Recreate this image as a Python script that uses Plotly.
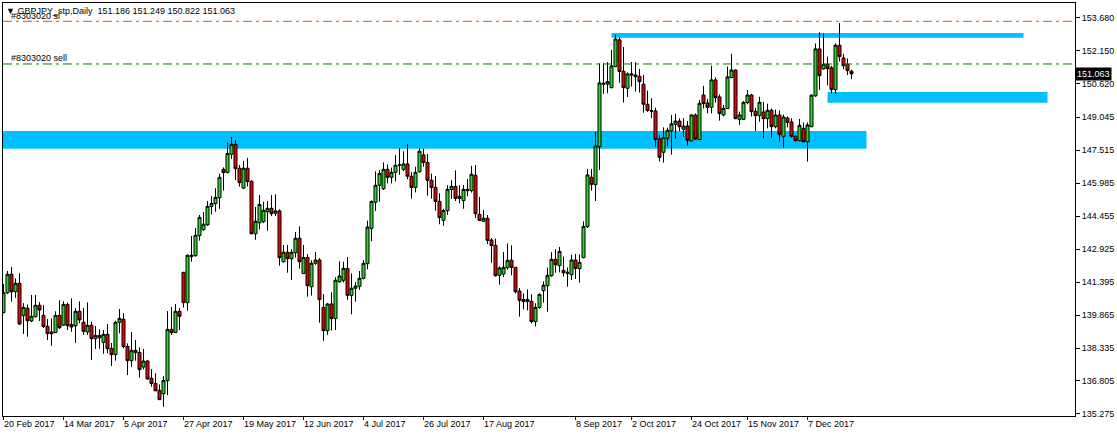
import plotly.graph_objects as go

# ---------------- data ----------------
opens = [139.98, 140.90, 141.76, 140.95, 141.34, 139.84, 140.18, 139.59, 139.79, 140.32,
         139.85, 139.34, 139.08, 139.05, 139.85, 139.40, 140.36, 139.43, 139.37, 140.04,
         139.53, 139.08, 139.39, 138.77, 138.92, 138.60, 138.97, 138.32, 138.03, 139.53,
         139.67, 138.41, 137.75, 138.23, 138.13, 137.45, 137.73, 136.93, 136.69, 136.37,
         136.21, 136.82, 139.20, 139.06, 140.04, 141.85, 140.44, 142.58, 142.62, 143.55,
         143.83, 144.05, 144.90, 145.04, 145.31, 146.63, 146.49, 147.33, 147.79, 146.68,
         145.76, 146.68, 146.07, 143.64, 144.15, 144.20, 144.66, 144.82, 144.59, 144.70,
         142.34, 142.78, 142.48, 142.76, 143.43, 141.79, 142.54, 141.18, 142.27, 142.42,
         140.22, 139.14, 140.38, 139.70, 141.41, 141.48, 142.03, 140.78, 141.11, 141.20,
         141.57, 142.25, 143.89, 145.10, 145.89, 145.73, 146.63, 146.26, 146.49, 146.82,
         146.63, 146.88, 146.31, 145.79, 146.52, 147.30, 146.95, 146.12, 145.79, 145.14,
         144.26, 144.71, 145.69, 145.84, 145.28, 145.18, 145.70, 145.64, 146.35, 144.54,
         144.22, 144.36, 143.35, 143.10, 141.71, 141.77, 142.06, 142.41, 142.08, 140.98,
         140.49, 140.59, 140.50, 139.56, 140.22, 141.00, 141.23, 141.69, 142.45, 142.16,
         141.94, 141.80, 141.74, 142.42, 142.02, 142.53, 143.97, 146.26, 145.92, 147.68,
         150.58, 150.58, 150.42, 151.40, 152.64, 151.18, 150.39, 151.00, 151.01, 150.95,
         150.58, 149.65, 149.36, 149.34, 148.04, 147.42, 148.07, 148.41, 148.72, 148.87,
         148.49, 148.64, 147.95, 149.15, 148.01, 150.08, 149.71, 149.51, 150.78, 149.99,
         149.15, 149.45, 150.89, 151.24, 148.95, 148.95, 149.73, 150.08, 149.32, 149.12,
         149.29, 148.98, 149.37, 148.61, 149.15, 148.16, 149.01, 148.83, 148.16, 147.96,
         148.53, 147.91, 148.61, 150.04, 152.22, 151.29, 151.51, 151.34, 150.33, 152.39,
         151.80, 151.51, 151.186]
highs = [141.31, 141.91, 142.10, 141.57, 141.80, 140.42, 140.36, 140.80, 140.80, 140.47,
         140.32, 139.68, 139.71, 140.04, 140.55, 140.50, 140.44, 140.64, 140.19, 140.50,
         140.19, 140.45, 139.56, 139.36, 139.20, 139.17, 139.45, 138.57, 139.60, 140.15,
         139.96, 138.55, 139.08, 138.71, 138.37, 138.29, 137.78, 137.36, 137.16, 136.65,
         137.03, 140.05, 140.24, 140.38, 140.19, 141.87, 142.68, 143.53, 143.91, 144.51,
         144.65, 145.16, 145.39, 145.75, 146.43, 146.72, 147.87, 148.13, 147.99, 146.83,
         147.02, 147.16, 146.12, 144.88, 145.44, 145.13, 145.16, 145.44, 145.47, 144.77,
         143.12, 143.12, 142.93, 143.72, 143.98, 143.12, 142.70, 142.41, 142.79, 142.51,
         140.84, 140.42, 140.92, 141.62, 142.36, 142.34, 142.56, 141.80, 141.40, 141.91,
         142.42, 144.25, 145.18, 146.54, 146.60, 146.95, 146.86, 146.71, 147.30, 147.61,
         147.47, 147.81, 146.51, 146.75, 147.62, 147.59, 147.34, 146.43, 146.32, 145.52,
         144.80, 145.90, 146.12, 146.58, 145.89, 145.90, 146.18, 146.79, 146.83, 145.35,
         144.74, 144.51, 143.44, 143.41, 142.13, 142.79, 143.19, 143.10, 142.08, 141.12,
         140.87, 141.06, 140.83, 140.41, 140.87, 141.43, 142.07, 142.78, 142.92, 143.03,
         142.58, 142.07, 142.67, 142.70, 142.68, 144.22, 146.65, 146.65, 148.36, 151.55,
         151.55, 151.61, 152.17, 152.87, 152.76, 152.31, 151.13, 151.61, 151.60, 151.29,
         151.01, 150.28, 149.93, 149.49, 148.21, 148.58, 148.56, 149.15, 149.21, 149.00,
         149.01, 148.87, 149.18, 149.22, 149.85, 150.50, 149.90, 151.44, 150.90, 150.11,
         149.62, 151.40, 151.99, 151.26, 149.31, 149.80, 150.31, 150.13, 149.48, 150.00,
         149.76, 149.68, 149.45, 149.40, 149.37, 149.17, 149.09, 149.00, 148.22, 148.97,
         148.80, 148.81, 150.11, 152.47, 152.99, 152.93, 151.86, 151.43, 152.48, 153.42,
         151.99, 151.78, 151.249]
lows = [139.94, 140.84, 140.49, 140.67, 139.40, 138.99, 138.86, 139.54, 139.76, 139.59,
        139.26, 138.71, 138.44, 139.03, 139.22, 139.36, 139.17, 139.09, 138.58, 139.48,
        138.95, 138.94, 137.78, 138.29, 138.30, 138.07, 138.09, 137.50, 137.75, 139.02,
        138.32, 137.08, 137.45, 137.75, 136.96, 137.34, 136.85, 136.54, 136.34, 135.92,
        135.61, 136.15, 138.94, 139.03, 139.17, 140.21, 140.07, 142.34, 142.58, 143.32,
        143.78, 144.01, 144.54, 144.66, 144.80, 145.64, 146.44, 147.11, 146.13, 145.83,
        145.72, 145.83, 143.62, 143.36, 143.84, 144.14, 143.78, 144.46, 144.46, 142.16,
        142.30, 141.83, 141.49, 142.53, 142.02, 141.77, 140.72, 140.77, 142.20, 139.51,
        138.67, 138.95, 139.15, 139.17, 141.37, 141.38, 140.58, 139.90, 140.49, 141.04,
        141.52, 141.99, 143.29, 144.70, 145.13, 145.67, 145.98, 145.97, 146.07, 146.38,
        146.54, 146.17, 145.27, 145.56, 146.48, 146.75, 145.41, 145.27, 144.71, 144.08,
        144.01, 144.51, 145.25, 145.16, 145.05, 144.80, 145.38, 145.55, 144.37, 144.23,
        144.20, 143.16, 142.30, 141.65, 141.28, 141.63, 141.96, 141.71, 140.87, 139.79,
        140.13, 140.08, 139.48, 139.33, 140.16, 140.44, 140.02, 141.65, 141.83, 141.85,
        141.65, 141.18, 141.49, 141.54, 141.37, 142.50, 143.91, 145.64, 145.16, 146.60,
        150.13, 150.16, 150.39, 151.37, 150.65, 149.73, 149.99, 150.47, 150.24, 150.19,
        149.26, 149.29, 149.01, 147.68, 146.99, 146.94, 147.71, 147.31, 148.05, 148.41,
        148.15, 147.73, 147.91, 147.99, 147.99, 149.46, 149.23, 149.23, 149.73, 148.89,
        149.09, 149.43, 150.86, 148.96, 148.69, 148.92, 149.65, 149.08, 148.41, 148.84,
        148.07, 148.53, 148.10, 148.53, 147.91, 147.64, 148.58, 148.09, 147.91, 147.93,
        147.90, 146.99, 148.58, 150.00, 150.31, 151.26, 150.53, 150.16, 150.13, 151.63,
        151.27, 151.01, 150.822]
closes = [140.90, 141.76, 140.95, 141.34, 139.45, 140.22, 139.60, 139.81, 140.32, 140.10,
          139.33, 139.00, 139.00, 139.85, 139.28, 140.36, 139.37, 139.31, 140.04, 139.64,
          139.11, 139.39, 138.77, 138.92, 138.81, 138.97, 138.30, 138.03, 139.53, 139.71,
          138.40, 137.75, 138.23, 138.12, 137.33, 137.73, 136.90, 136.69, 136.35, 135.94,
          136.83, 139.20, 139.05, 140.04, 139.81, 140.44, 142.64, 142.64, 143.57, 144.40,
          144.08, 144.91, 145.05, 145.33, 146.26, 146.48, 147.37, 147.79, 146.66, 146.01,
          146.68, 146.06, 143.64, 144.22, 145.00, 144.73, 144.82, 144.57, 144.70, 142.53,
          142.78, 142.48, 142.78, 143.43, 142.34, 142.54, 141.23, 142.27, 142.42, 140.58,
          139.14, 140.38, 139.70, 141.48, 141.68, 142.03, 140.78, 141.11, 141.21, 141.57,
          142.27, 143.95, 145.14, 145.89, 146.44, 146.63, 146.26, 146.49, 146.82, 146.83,
          146.88, 146.31, 145.79, 146.49, 147.47, 146.95, 146.12, 145.79, 145.14, 144.39,
          144.71, 145.70, 145.84, 145.28, 145.38, 145.70, 145.64, 146.40, 144.57, 144.26,
          144.36, 143.33, 143.09, 141.69, 142.05, 142.08, 142.41, 142.08, 140.95, 140.55,
          140.59, 140.49, 139.56, 140.22, 140.83, 141.25, 141.71, 142.45, 142.20, 142.82,
          141.83, 141.85, 142.42, 142.03, 142.31, 143.98, 146.37, 145.93, 147.71, 150.64,
          150.62, 150.70, 151.43, 152.68, 151.17, 150.42, 151.06, 151.06, 150.93, 150.70,
          149.65, 149.36, 149.33, 148.02, 147.19, 148.10, 148.44, 148.74, 148.87, 148.61,
          148.64, 147.98, 149.15, 148.04, 149.69, 149.68, 149.51, 150.78, 149.96, 149.22,
          149.46, 150.92, 151.24, 148.98, 149.15, 149.74, 150.08, 149.31, 149.12, 149.74,
          148.98, 149.37, 148.61, 149.15, 148.26, 149.06, 148.81, 148.16, 147.96, 148.67,
          147.91, 148.69, 150.07, 152.22, 150.98, 151.51, 151.30, 150.33, 152.39, 151.86,
          151.44, 151.21, 151.063]
bars = list(range(len(opens)))

tick_bars = [0, 15, 30, 45, 60, 75, 90, 105, 120, 143, 157, 172, 186, 201]
tick_dates = ["20 Feb 2017", "14 Mar 2017", "5 Apr 2017", "27 Apr 2017", "19 May 2017",
              "12 Jun 2017", "4 Jul 2017", "26 Jul 2017", "17 Aug 2017", "8 Sep 2017",
              "2 Oct 2017", "24 Oct 2017", "15 Nov 2017", "7 Dec 2017"]

price_ticks = [153.680, 152.150, 150.620, 149.045, 147.515, 145.985, 144.455,
               142.925, 141.395, 139.865, 138.335, 136.805, 135.275]

symbol_title = "GBPJPY_stp,Daily"
last_ohlc = [151.186, 151.249, 150.822, 151.063]
last_price = 151.063
sl_level = 153.50
sell_level = 151.52
sl_label = "#8303020 sl"
sell_label = "#8303020 sell"

# zones: (first bar, last bar, low price, high price)
zone_support = (-5, 215.75, 147.59, 148.41)
zone_top = (152, 255, 152.74, 152.96)
zone_right = (206, 261, 149.72, 150.22)

FONT = "Liberation Sans"
ZONE_COLOR = "#00BFFF"

# ---------------- figure ----------------
fig = go.Figure()
fig.add_trace(go.Candlestick(
    x=bars, open=opens, high=highs, low=lows, close=closes,
    increasing=dict(fillcolor="#22DD22", line=dict(color="black", width=1)),
    decreasing=dict(fillcolor="#EE0000", line=dict(color="black", width=1)),
    whiskerwidth=0, showlegend=False, hoverinfo="skip",
))

shapes = []
for (x0, x1, lo, hi) in (zone_support, zone_top, zone_right):
    shapes.append(dict(type="rect", xref="x", yref="y", x0=x0, x1=x1, y0=lo, y1=hi,
                       fillcolor=ZONE_COLOR, line=dict(width=0), layer="below"))
shapes.append(dict(type="line", xref="paper", yref="y", x0=0, x1=1, y0=sl_level, y1=sl_level,
                   line=dict(color="#FF4500", width=1, dash="9px,4px,3px,4px")))
shapes.append(dict(type="line", xref="paper", yref="y", x0=0, x1=1, y0=sell_level, y1=sell_level,
                   line=dict(color="#008000", width=1, dash="9px,4px,3px,4px")))

annotations = []
for b, lab in zip(tick_bars, tick_dates):
    annotations.append(dict(x=b, xref="x", y=0, yref="paper", text=lab, showarrow=False,
                            xanchor="left", yanchor="top", xshift=-2, yshift=-1,
                            font=dict(family=FONT, size=9, color="black")))
annotations.append(dict(x=0, xref="paper", y=1, yref="paper", showarrow=False,
                        xanchor="left", yanchor="top", xshift=1, yshift=-1,
                        text="\u25BC " + symbol_title + "  " + " ".join(f"{v:.3f}" for v in last_ohlc),
                        font=dict(family=FONT, size=9, color="black")))
annotations.append(dict(x=0, xref="paper", y=sl_level, yref="y", showarrow=False,
                        xanchor="left", yanchor="bottom", xshift=6, yshift=-2,
                        text=sl_label, font=dict(family=FONT, size=9, color="black")))
annotations.append(dict(x=0, xref="paper", y=sell_level, yref="y", showarrow=False,
                        xanchor="left", yanchor="bottom", xshift=6, yshift=-1,
                        text=sell_label, font=dict(family=FONT, size=9, color="black")))
annotations.append(dict(x=1, xref="paper", y=last_price, yref="y", showarrow=False,
                        xanchor="left", yanchor="middle", xshift=0,
                        text=f"{last_price:.3f}", bgcolor="black", borderpad=1,
                        font=dict(family=FONT, size=9, color="white")))

fig.update_layout(
    width=1117, height=437,
    margin=dict(l=3, r=42, t=3, b=21, autoexpand=False),
    paper_bgcolor="white", plot_bgcolor="white",
    shapes=shapes, annotations=annotations,
    showlegend=False,
    boxgap=0.25, boxgroupgap=0,
    xaxis=dict(range=[-0.125, 267.875], rangeslider=dict(visible=False), automargin=False,
               showgrid=False, zeroline=False, showline=True, linecolor="black",
               linewidth=1, mirror=True, tickmode="array", tickvals=tick_bars,
               ticks="outside", ticklen=3, tickcolor="black", showticklabels=False),
    yaxis=dict(range=[135.18, 154.35], side="right", showgrid=False, zeroline=False,
               automargin=False,
               showline=True, linecolor="black", linewidth=1, mirror=True,
               tickmode="array", tickvals=price_ticks,
               ticktext=[f"{v:.3f}" for v in price_ticks],
               ticks="outside", ticklen=4, tickcolor="black",
               tickfont=dict(family=FONT, size=9, color="black")),
)

fig.write_html("out.html", config={"displayModeBar": False},
               post_script="document.body.style.margin='0px';"
               "document.body.style.padding='0px';window.dispatchEvent(new Event('resize'));")
